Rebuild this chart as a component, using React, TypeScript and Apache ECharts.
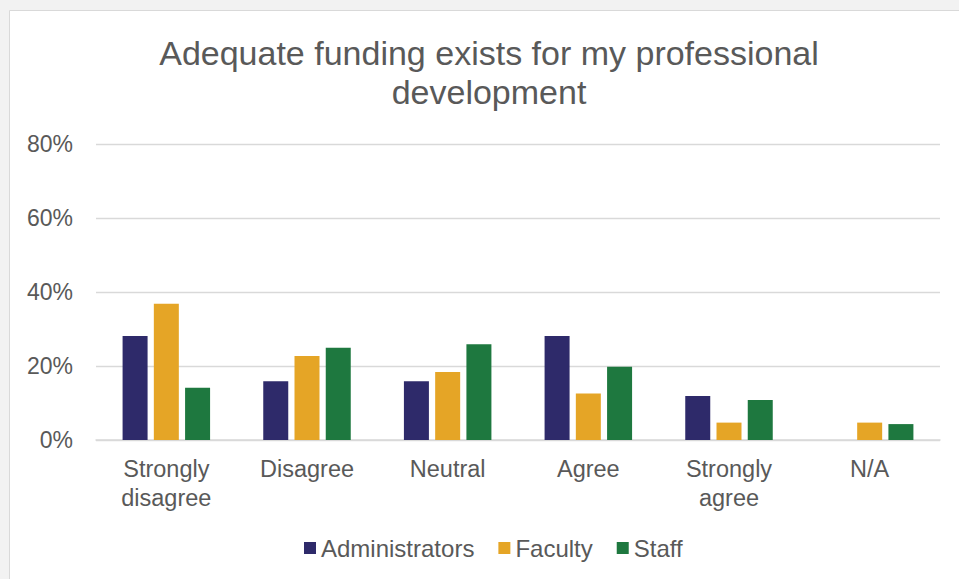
import React, { useEffect, useRef } from "react";
import * as echarts from "echarts";

const categories = ["Strongly\ndisagree", "Disagree", "Neutral", "Agree", "Strongly\nagree", "N/A"];
const administrators = [0.281, 0.159, 0.159, 0.281, 0.119, 0];
const faculty = [0.368, 0.227, 0.184, 0.126, 0.047, 0.047];
const staff = [0.141, 0.249, 0.259, 0.198, 0.108, 0.043];
const yTicks = [0, 0.2, 0.4, 0.6, 0.8];

const FONT = "'Liberation Sans', Arial, sans-serif";
const TXT = "#595959";

export default function App() {
  const ref = useRef<HTMLDivElement>(null);
  useEffect(() => {
    if (!ref.current) return;
    const chart = echarts.init(ref.current, undefined, { renderer: "svg" });
    chart.setOption({
      animation: false,
      backgroundColor: "#f2f2f2",
      textStyle: { fontFamily: FONT },
      graphic: [
        {
          type: "rect",
          shape: { x: 9.5, y: 10.5, width: 960, height: 580 },
          style: { fill: "#ffffff", stroke: "#d9d9d9", lineWidth: 1 },
          z: -10,
        },
      ],
      title: {
        text: "Adequate funding exists for my professional\ndevelopment",
        left: 484,
        textAlign: "center",
        top: 28,
        textStyle: { fontSize: 34, fontWeight: "normal", color: TXT, lineHeight: 39, fontFamily: FONT },
      },
      legend: {
        data: ["Administrators", "Faculty", "Staff"],
        left: 304,
        top: 536,
        padding: 0,
        icon: "rect",
        itemWidth: 12,
        itemHeight: 12,
        itemGap: 24,
        textStyle: { fontSize: 24, color: TXT, fontFamily: FONT, lineHeight: 24 },
      },
      grid: { left: 96, right: 19, top: 144, bottom: 139 },
      xAxis: {
        type: "category",
        data: categories,
        axisLine: { lineStyle: { color: "#d9d9d9", width: 1.5 } },
        axisTick: { show: false },
        axisLabel: { fontSize: 23.5, color: TXT, lineHeight: 29, margin: 14, interval: 0, fontFamily: FONT },
      },
      yAxis: {
        type: "value",
        min: yTicks[0],
        max: yTicks[yTicks.length - 1],
        interval: 0.2,
        axisLine: { show: false },
        axisTick: { show: false },
        splitLine: { lineStyle: { color: "#d9d9d9", width: 1.3 } },
        axisLabel: {
          fontSize: 23,
          color: TXT,
          margin: 23,
          fontFamily: FONT,
          formatter: (v: number) => Math.round(v * 100) + "%",
        },
      },
      series: [
        { name: "Administrators", type: "bar", data: administrators, barWidth: 25, barGap: "25%", itemStyle: { color: "#2e2a6a" } },
        { name: "Faculty", type: "bar", data: faculty, barWidth: 25, barGap: "25%", itemStyle: { color: "#e5a526" } },
        { name: "Staff", type: "bar", data: staff, barWidth: 25, barGap: "25%", itemStyle: { color: "#1e783f" } },
      ],
    });
    return () => chart.dispose();
  }, []);
  return (
    <div
      ref={ref}
      style={{ position: "fixed", left: 0, top: 0, width: 959, height: 579 }}
    />
  );
}
